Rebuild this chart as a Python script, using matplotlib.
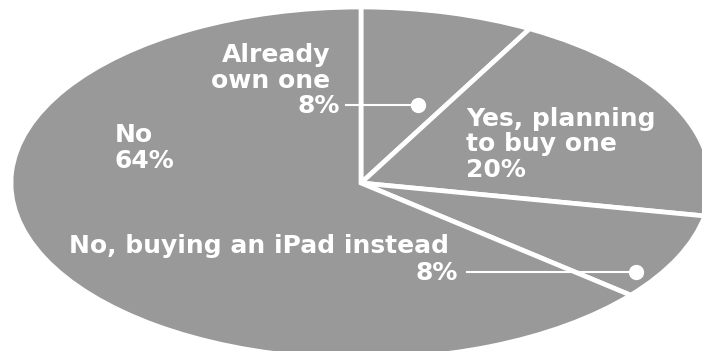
import matplotlib
matplotlib.use('Agg')
import matplotlib.pyplot as plt

labels = ['Already own one', 'Yes, planning to buy one', 'No, buying an iPad instead', 'No']
shares = [8, 20, 8, 64]

grey = '#999999'
font = dict(family=['DejaVu Sans'], weight='bold', color='white', fontsize=18,
            va='baseline')

fig = plt.figure(figsize=(7.02, 3.51), dpi=100)

# pie stretched into an ellipse: axes box is the ellipse's bounding box
pie_ax = fig.add_axes([11 / 702, -8 / 351, 700 / 702, 352 / 351])
pie_ax.pie(shares, startangle=90, counterclock=False, colors=[grey] * len(shares),
           wedgeprops=dict(edgecolor='white', linewidth=3.4))
pie_ax.set_aspect('auto')
pie_ax.set_xlim(-1, 1)
pie_ax.set_ylim(-1, 1)
pie_ax.axis('off')

# overlay in pixel coordinates for labels and pointers
ax = fig.add_axes([0, 0, 1, 1])
ax.set_xlim(0, 702)
ax.set_ylim(351, 0)
ax.axis('off')
ax.patch.set_alpha(0)


def lines(x, y0, rows, ha, step=25.5):
    for i, row in enumerate(rows):
        ax.text(x, y0 + i * step, row, ha=ha, **font)


lines(330, 62, ['Already', 'own one'], 'right')
ax.text(340, 113, '%d%%' % shares[0], ha='right', **font)
ax.plot([346, 418], [105, 105], color='white', lw=1.5)
ax.plot(418, 105, 'o', color='white', ms=10)

lines(466, 126, ['Yes, planning', 'to buy one', '%d%%' % shares[1]], 'left')

ax.text(69, 253, labels[2], ha='left', **font)
ax.text(458, 280, '%d%%' % shares[2], ha='right', **font)
ax.plot([467, 636], [272, 272], color='white', lw=1.5)
ax.plot(636, 272, 'o', color='white', ms=10)

lines(115, 142, ['No', '%d%%' % shares[3]], 'left')

fig.savefig('out.png', dpi=100)
